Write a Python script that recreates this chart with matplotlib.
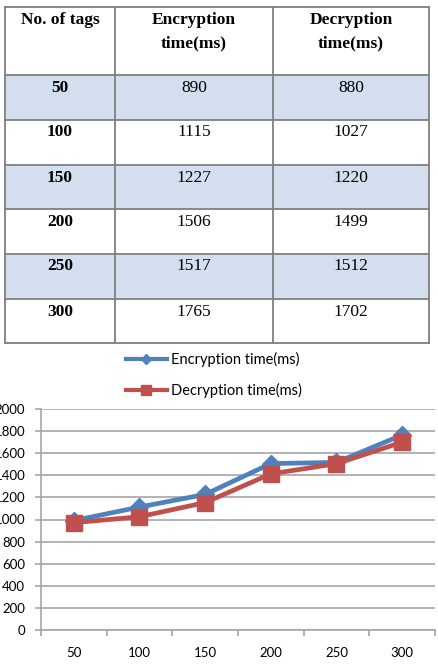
import matplotlib
matplotlib.use("Agg")
import matplotlib.pyplot as plt
from matplotlib.patches import Rectangle
from matplotlib.lines import Line2D

# ---- table data ----
table_header = ["No. of tags", "Encryption\ntime(ms)", "Decryption\ntime(ms)"]
table_tags = ["50", "100", "150", "200", "250", "300"]
table_enc = ["890", "1115", "1227", "1506", "1517", "1765"]
table_dec = ["880", "1027", "1220", "1499", "1512", "1702"]

# ---- chart data ----
categories = ["50", "100", "150", "200", "250", "300"]
enc_values = [990, 1113, 1227, 1506, 1517, 1765]
dec_values = [971, 1025, 1153, 1413, 1505, 1700]
series_names = ["Encryption time(ms)", "Decryption time(ms)"]
y_ticks = [0, 200, 400, 600, 800, 1000, 1200, 1400, 1600, 1800, 2000]

BLUE = "#4F81BD"
RED = "#C0504D"
GRID = "#A6A6A6"
SANS = ["Lato", "DejaVu Sans"]
SERIF = ["Liberation Serif", "DejaVu Serif"]
FS_TICK = 9.5
FS_LEG = 10.5

W, H = 439, 665
fig = plt.figure(figsize=(W / 100, H / 100), dpi=100)

# ---- table ----
tax = fig.add_axes([0, 0, 1, 1])
tax.set_xlim(0, W)
tax.set_ylim(H, 0)
tax.axis("off")

col_x = [5, 115, 273, 429]
row_y = [7, 75, 120, 165, 209, 254, 299, 343]

for r in range(len(table_tags)):
    top, bot = row_y[r + 1], row_y[r + 2]
    if r % 2 == 0:
        tax.add_patch(Rectangle((col_x[0], top), col_x[-1] - col_x[0], bot - top,
                                facecolor="#D3DFEE", edgecolor="none", zorder=1))
for y in row_y:
    tax.plot([col_x[0], col_x[-1]], [y, y], color="#7F7F7F", lw=1.3, zorder=2,
             solid_capstyle="projecting")
for x in col_x:
    tax.plot([x, x], [row_y[0], row_y[-1]], color="#7F7F7F", lw=1.3, zorder=2,
             solid_capstyle="projecting")

col_c = [(col_x[i] + col_x[i + 1]) / 2 for i in range(3)]
for c, head in enumerate(table_header):
    for k, line in enumerate(head.split("\n")):
        tax.text(col_c[c], row_y[0] + 13 + 23 * k, line, ha="center", va="center",
                 fontsize=12.5, fontweight="bold", family=SERIF, zorder=3)

for r in range(len(table_tags)):
    yc = row_y[r + 1] + 12.5
    tax.text(col_c[0], yc, table_tags[r], ha="center", va="center",
             fontsize=12.5, fontweight="bold", family=SERIF, zorder=3)
    tax.text(col_c[1], yc, table_enc[r], ha="center", va="center",
             fontsize=12.5, family=SERIF, zorder=3)
    tax.text(col_c[2], yc, table_dec[r], ha="center", va="center",
             fontsize=12.5, family=SERIF, zorder=3)

# ---- chart ----
ax = fig.add_axes([41 / W, (H - 630) / H, (435 - 41) / W, (630 - 409) / H])
x = list(range(len(categories)))
ax.plot(x, enc_values, color=BLUE, lw=3.4, marker="D", ms=9, zorder=3,
        label=series_names[0])
ax.plot(x, dec_values, color=RED, lw=3.4, marker="s", ms=11, zorder=4,
        label=series_names[1])
ax.set_xlim(-0.5, len(categories) - 0.5)
ax.set_ylim(y_ticks[0], y_ticks[-1])
ax.set_yticks(y_ticks)
ax.set_yticklabels([str(v) for v in y_ticks], family=SANS, fontsize=FS_TICK)
ax.grid(axis="y", color=GRID, lw=1.2)
ax.set_axisbelow(True)
for s in ["top", "right"]:
    ax.spines[s].set_visible(False)
for s in ["left", "bottom"]:
    ax.spines[s].set_color(GRID)
    ax.spines[s].set_linewidth(1.2)
ax.set_xticks(x)
ax.set_xticklabels(categories, family=SANS, fontsize=FS_TICK)
ax.set_xticks([i - 0.5 for i in range(len(categories) + 1)], minor=True)
ax.tick_params(axis="x", which="major", length=0, pad=12)
ax.tick_params(axis="x", which="minor", length=4, color=GRID, width=1.2)
ax.tick_params(axis="y", length=4.3, color=GRID, width=1.2, pad=7)

handles = [Line2D([], [], color=BLUE, lw=3, marker="D", ms=5),
           Line2D([], [], color=RED, lw=3, marker="s", ms=6.5)]
fig.legend(handles, series_names, loc="center",
           bbox_to_anchor=(214 / W, (H - 375) / H), frameon=False,
           prop={"family": SANS, "size": FS_LEG}, handlelength=2.8,
           handletextpad=0.3, labelspacing=1.05, borderpad=0)

fig.savefig("out.png", dpi=100)
